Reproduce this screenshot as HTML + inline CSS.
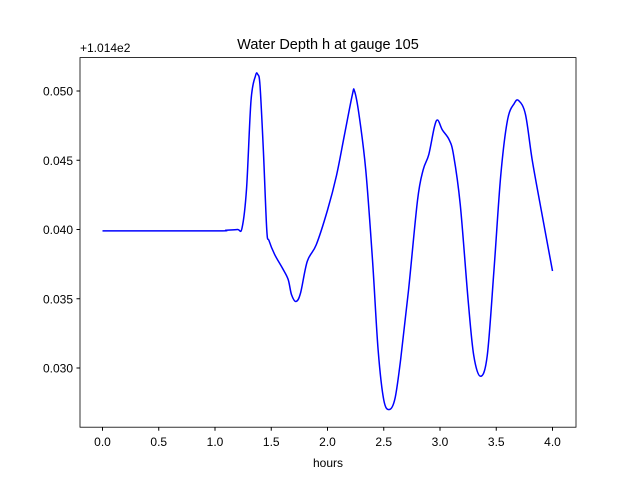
<!DOCTYPE html>
<html><head><meta charset="utf-8"><style>
body{margin:0;background:#fff;}
svg{display:block;font-family:"Liberation Sans","DejaVu Sans",sans-serif;}
</style></head><body>
<svg id="chart" width="640" height="480">
<rect width="640" height="480" fill="#fff"/>
<text x="328" y="49" text-anchor="middle" font-size="14.5">Water Depth h at gauge 105</text>
<text x="80" y="52" font-size="12">+1.014e2</text>
<text x="328" y="467" text-anchor="middle" font-size="12">hours</text>
<g id="xticks"></g>
<g id="yticks"></g>
<path id="line" fill="none" stroke="#0000ff" stroke-width="1.5" stroke-linejoin="round"/>
<rect x="80" y="57.6" width="496" height="369.6" fill="none" stroke="#000" stroke-width="0.8"/>
</svg>
<script>
const hours=[0,1.0,1.1,1.2,1.24,1.28,1.32,1.36,1.38,1.40,1.43,1.46,1.48,1.53,1.6,1.65,1.68,1.72,1.76,1.82,1.9,2.0,2.08,2.15,2.22,2.24,2.28,2.34,2.4,2.45,2.5,2.55,2.6,2.65,2.72,2.8,2.85,2.9,2.95,2.98,3.02,3.08,3.12,3.18,3.25,3.3,3.36,3.42,3.48,3.54,3.6,3.66,3.7,3.76,3.82,3.9,4.0];
const depth=[39.9,39.9,39.95,40.0,40.1,42.9,49.3,51.1,51.2,50.4,45.7,40.0,39.2,38.2,37.2,36.4,35.3,34.8,35.4,37.7,38.9,41.4,43.9,46.8,49.7,50.0,48.3,44.3,37.8,31.3,27.7,27.0,27.8,30.6,35.6,42.1,44.3,45.4,47.4,47.9,47.2,46.5,45.4,41.8,34.9,30.9,29.4,30.9,37.1,43.9,47.9,49.1,49.3,48.3,45.0,41.4,37.0];
const xTickVals=[0,0.5,1.0,1.5,2.0,2.5,3.0,3.5,4.0];
const yTickVals=[30,35,40,45,50];
const yTickLabels=["0.030","0.035","0.040","0.045","0.050"];
const xs=v=>102.5+112.5*v;
const ys=v=>91-(v-50)*13.85;
const NS="http://www.w3.org/2000/svg";
const P=hours.map((h,i)=>[xs(h),ys(depth[i])]);
let d='M'+P[0][0]+','+P[0][1];
for(let i=0;i<P.length-1;i++){
 const p0=P[Math.max(0,i-1)],p1=P[i],p2=P[i+1],p3=P[Math.min(P.length-1,i+2)];
 const c1x=p1[0]+(p2[0]-p0[0])/6,c1y=p1[1]+(p2[1]-p0[1])/6;
 const c2x=p2[0]-(p3[0]-p1[0])/6,c2y=p2[1]-(p3[1]-p1[1])/6;
 d+=' C'+c1x+','+c1y+' '+c2x+','+c2y+' '+p2[0]+','+p2[1];
}
document.getElementById('line').setAttribute('d',d);
const xg=document.getElementById('xticks');
xTickVals.forEach(v=>{
 const l=document.createElementNS(NS,'line');
 l.setAttribute('x1',xs(v));l.setAttribute('x2',xs(v));l.setAttribute('y1',427.2);l.setAttribute('y2',430.7);l.setAttribute('stroke','#000');
 
 
 xg.appendChild(l);
 const t=document.createElementNS(NS,'text');
 t.setAttribute('x',xs(v));t.setAttribute('y',446);t.setAttribute('text-anchor','middle');t.setAttribute('font-size','12');
 t.textContent=v.toFixed(1);
 
 
 xg.appendChild(t);
});
const yg=document.getElementById('yticks');
yTickVals.forEach((v,i)=>{
 const l=document.createElementNS(NS,'line');
 l.setAttribute('x1',76.5);l.setAttribute('x2',80);l.setAttribute('y1',ys(v));l.setAttribute('y2',ys(v));l.setAttribute('stroke','#000');
 
 
 yg.appendChild(l);
 const t=document.createElementNS(NS,'text');
 t.setAttribute('x',73);t.setAttribute('y',ys(v)+4.5);t.setAttribute('text-anchor','end');t.setAttribute('font-size','12');
 t.textContent=yTickLabels[i];
 
 
 yg.appendChild(t);
});
</script>
</body></html>
